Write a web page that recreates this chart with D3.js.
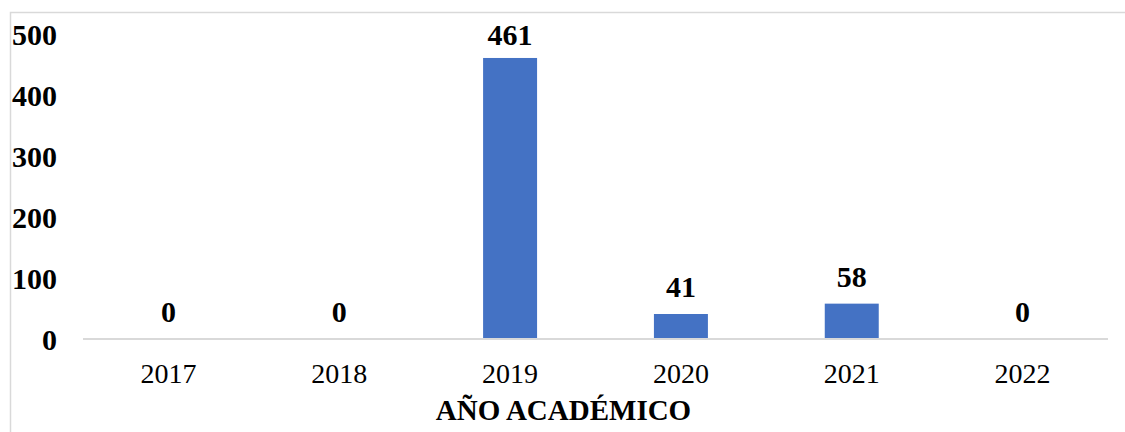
<!DOCTYPE html>
<html><head><meta charset="utf-8">
<script src="https://cdn.jsdelivr.net/npm/d3@7"></script>
<style>html,body{margin:0;padding:0;background:#fff;overflow:hidden}</style>
</head><body>
<script>
const categories = ["2017","2018","2019","2020","2021","2022"];
const values = [0, 0, 461, 41, 58, 0];
const yTicks = [0, 100, 200, 300, 400, 500];
const axisTitle = "AÑO ACADÉMICO";

const W = 1125, H = 432;
const svg = d3.select("body").append("svg").attr("width", W).attr("height", H);
const font = "'Liberation Serif','Times New Roman',serif";

svg.append("rect").attr("x", 10.5).attr("y", 12.5).attr("width", 1140).attr("height", 440)
  .attr("fill", "#fff").attr("stroke", "#d9d9d9").attr("stroke-width", 1.5);

const x = d3.scaleBand().domain(categories).range([83, 1108]).paddingInner(0.684).paddingOuter(0.342);
const y = d3.scaleLinear().domain([0, 500]).range([339, 34.2]);

// y labels
svg.append("g").selectAll("text").data(yTicks).join("text")
  .attr("x", 57).attr("y", d => y(d)).attr("dy", "0.35em")
  .attr("text-anchor", "end").attr("font-family", font).attr("font-weight", "bold")
  .attr("font-size", 30).attr("fill", "#000").text(d => d);

// bars
svg.append("g").selectAll("rect").data(values).join("rect")
  .attr("x", (d, i) => x(categories[i])).attr("width", x.bandwidth())
  .attr("y", d => y(d)).attr("height", d => y(0) - y(d)).attr("fill", "#4472C4");

// axis line
const xAxis = d3.axisBottom(x).tickSize(0).tickPadding(0);
const gx = svg.append("g").attr("transform", `translate(0,${y(0)})`).call(xAxis);
gx.select(".domain").attr("stroke", "#d9d9d9").attr("stroke-width", 2)
  .attr("d", `M83,0H1108`);
gx.selectAll(".tick text").attr("font-family", font).attr("font-size", 28)
  .attr("fill", "#000").attr("y", 44).attr("dy", 0);

// data labels
svg.append("g").selectAll("text").data(values).join("text")
  .attr("x", (d, i) => x(categories[i]) + x.bandwidth() / 2)
  .attr("y", d => Math.max(y(d) - 17, 45))
  .attr("text-anchor", "middle").attr("font-family", font).attr("font-weight", "bold")
  .attr("font-size", 30).attr("fill", "#000").text(d => d);

// axis title
svg.append("text").attr("x", 563.5).attr("y", 420)
  .attr("text-anchor", "middle").attr("font-family", font).attr("font-weight", "bold")
  .attr("font-size", 29).attr("fill", "#000").text(axisTitle);
</script>
</body></html>
